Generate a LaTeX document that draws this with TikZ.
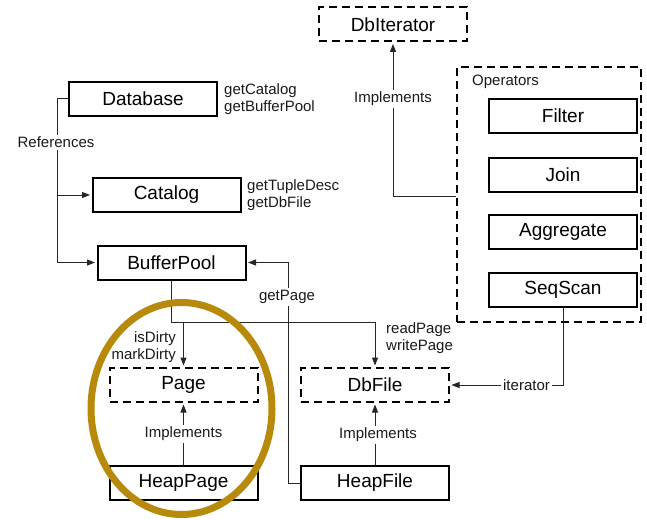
\documentclass[tikz,border=0pt]{standalone}
\usepackage{fontspec}
\setmainfont{Liberation Sans}
\usetikzlibrary{arrows.meta,calc}
\definecolor{goldring}{RGB}{184,138,12}
\definecolor{lbltext}{RGB}{25,25,25}
\begin{document}
\begin{tikzpicture}[x=1pt,y=-1pt,
  box/.style={draw=black, line width=2pt, minimum width=148pt, minimum height=34pt,
    inner sep=0pt, font=\fontsize{19}{19}\selectfont, text=black},
  ibox/.style={box, dashed, dash pattern=on 8pt off 5pt},
  lbl/.style={font=\fontsize{15}{17}\selectfont, text=lbltext, inner sep=0pt},
  onl/.style={lbl, fill=white, inner sep=2pt},
  conn/.style={draw=black!85, line width=1pt},
  arr/.style={conn, -{Triangle[length=8pt,width=6pt]}, shorten >=1.5pt},
]
\useasboundingbox (0,0) rectangle (647,519);

% Operators group
\node[draw=black, line width=2pt, dash pattern=on 8pt off 5pt, minimum width=184pt,
  minimum height=255pt, inner sep=0pt] (ops) at (549,194.5) {};
\node[lbl, anchor=west] (opslbl) at (472,82) {Operators};

% Boxes
\node[ibox] (dbiter) at (393,24.5) {DbIterator};
\node[box] (filter) at (563,115.5) {Filter};
\node[box] (join) at (563,175) {Join};
\node[box] (aggregate) at (563,232) {Aggregate};
\node[box] (seqscan) at (563,290) {SeqScan};
\node[box] (database) at (143,98.5) {Database};
\node[box] (catalog) at (166.5,195) {Catalog};
\node[box] (bufferpool) at (171.5,262.5) {BufferPool};
\node[ibox] (page) at (183.5,385) {Page};
\node[box] (heappage) at (183.5,482.5) {HeapPage};
\node[ibox] (dbfile) at (375,385) {DbFile};
\node[box] (heapfile) at (375,483) {HeapFile};

% Side labels
\node[lbl, anchor=west, align=left] (dbmeth) at (224,99) {getCatalog\\getBufferPool};
\node[lbl, anchor=west, align=left] (catmeth) at (247,195.5) {getTupleDesc\\getDbFile};
\node[lbl, anchor=east, align=right] (pagemeth) at (176,347) {isDirty\\markDirty};
\node[lbl, anchor=west, align=left] (filemeth) at (386,338.5) {readPage\\writePage};

% References
\coordinate (rtop) at (57,98.5);
\coordinate (rcat) at (57,195);
\draw[conn] (database.west) -- (rtop) -- (rcat);
\draw[arr] (rcat) |- (bufferpool.west);
\draw[arr] (rcat) -- (catalog.west);
\node[onl] (reflbl) at (56,142) {References};

% getPage
\coordinate (gp) at (288,483);
\draw[arr] (heapfile.west) -- (gp) |- (bufferpool.east);
\node[onl] (gplbl) at (287,297) {getPage};

% BufferPool to Page and DbFile
\coordinate (bus) at (0,322);
\draw[arr] (bufferpool.south) |- (dbfile.north |- bus) -- (dbfile.north);
\draw[arr] (page.north |- bus) -- (page.north);

% Implements
\draw[arr] (heappage.north) -- (page.south);
\node[onl] (implpage) at (183.5,434) {Implements};
\draw[arr] (heapfile.north) -- (dbfile.south);
\node[onl] (implfile) at (378,435) {Implements};

% iterator
\coordinate (itc) at (seqscan.south |- dbfile.east);
\draw[arr] (seqscan.south) -- (itc) -- (dbfile.east);
\node[onl] (itlbl) at (526.5,385) {iterator};

% Operators implement DbIterator
\coordinate (opc) at (ops.west |- 0,196);
\draw[arr] (opc) -| (dbiter.south);
\node[onl] (impliter) at (393,99) {Implements};

% Highlight ring
\draw[goldring, line width=7pt] (181.5,408.5) ellipse [x radius=90.5, y radius=106];
\end{tikzpicture}
\end{document}
